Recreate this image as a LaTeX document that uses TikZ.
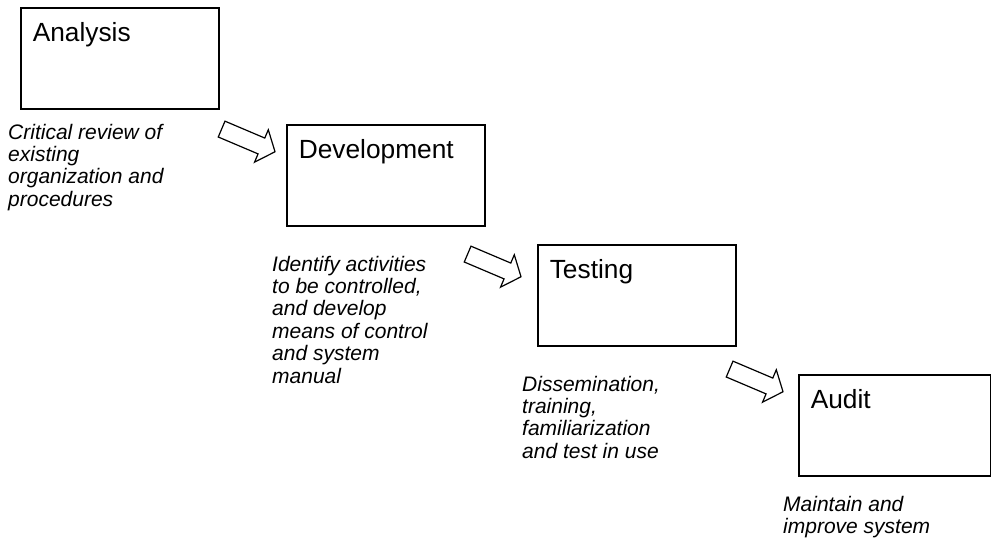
\documentclass[tikz,border=0pt]{standalone}
\usepackage{fontspec}
\setmainfont{Liberation Sans}
\usepackage{tikz}
\usetikzlibrary{positioning, shapes.arrows}

\begin{document}
\begin{tikzpicture}[
  x=1pt, y=-1pt,
  box/.style={draw, line width=1.6pt, align=left, inner xsep=12pt, inner ysep=0pt,
    text width=174pt, text height=34pt, text depth=67pt,
    font=\fontsize{26.3pt}{30pt}\selectfont},
  desc/.style={align=left, inner sep=0pt, anchor=north west,
    font=\fontsize{21pt}{22.4pt}\selectfont\itshape},
  flow/.style={single arrow, draw, line width=1.2pt, inner xsep=0pt, inner ysep=8pt,
    minimum height=58pt, single arrow head extend=9pt,
    single arrow tip angle=100, rotate=-23}
]
\useasboundingbox (0,0) rectangle (991,539);

\node[box, anchor=north west] (ana) at (20,7) {Analysis};
\node[box, below right=14.4pt and 66.4pt of ana] (dev) {Development};
\node[box, below right=17.4pt and 51.4pt of dev] (tst) {Testing};
\node[box, below right=27.4pt and 61.4pt of tst, text width=168pt] (aud) {Audit};

\node[desc] (anadesc) at ([shift={(-12pt,-14pt)}]ana.south west)
  {Critical review of\\existing\\organization and\\procedures};
\node[desc] (devdesc) at ([shift={(-14pt,-29pt)}]dev.south west)
  {Identify activities\\to be controlled,\\and develop\\means of control\\and system\\manual};
\node[desc] (tstdesc) at ([shift={(-15pt,-29pt)}]tst.south west)
  {Dissemination,\\training,\\familiarization\\and test in use};
\node[desc] (auddesc) at ([shift={(-15pt,-19pt)}]aud.south west)
  {Maintain and\\improve system};

\node[flow] (arr1) at (245,139) {};
\node[flow] (arr2) at (491,264) {};
\node[flow] (arr3) at (753,379) {};
\end{tikzpicture}
\end{document}
